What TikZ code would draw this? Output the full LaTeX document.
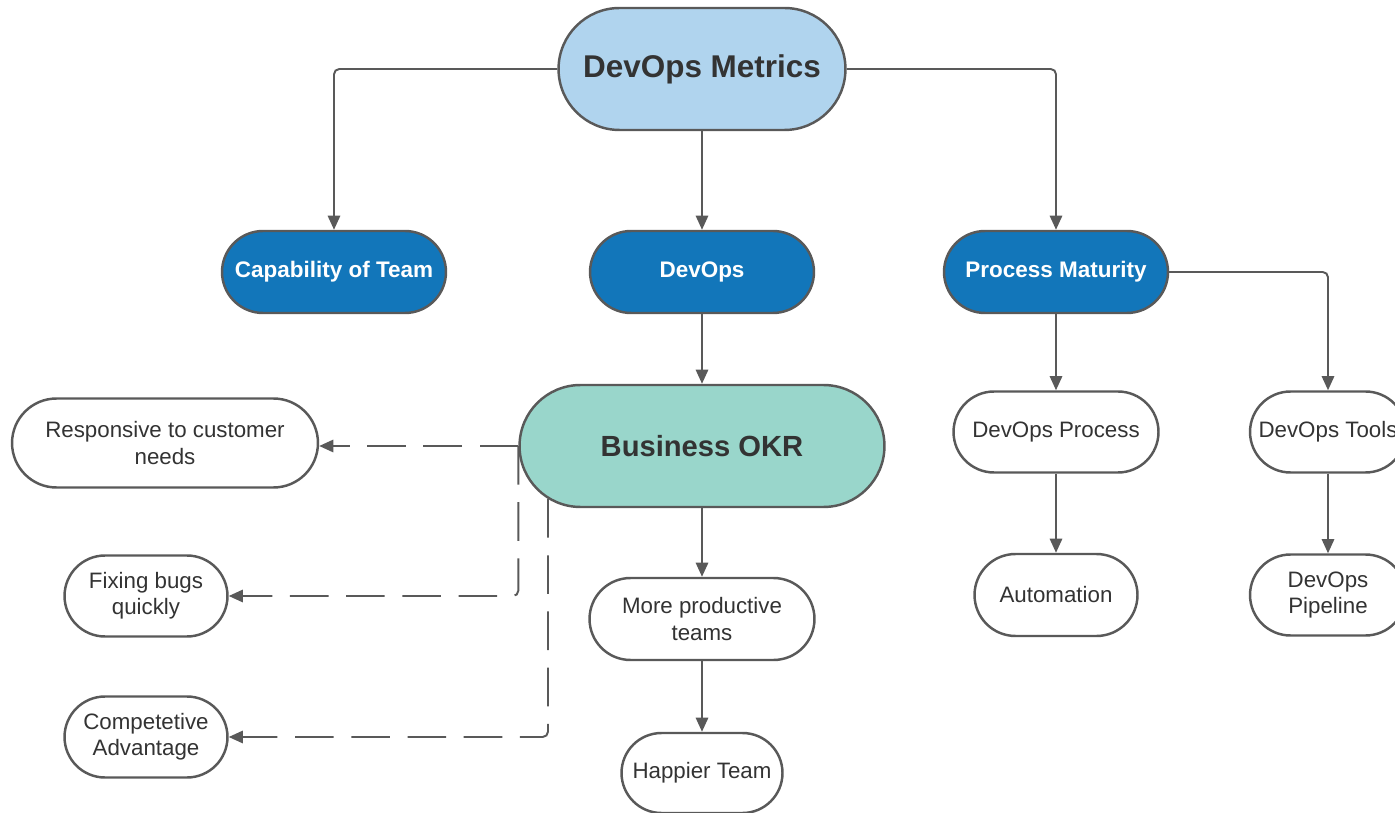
\documentclass[tikz,border=0pt]{standalone}
\usepackage{fontspec}
\setmainfont{Liberation Sans}
\usetikzlibrary{shapes.misc,arrows.meta}
\definecolor{linegray}{RGB}{89,89,89}
\definecolor{textgray}{RGB}{51,51,51}
\definecolor{metricblue}{RGB}{176,212,238}
\definecolor{areablue}{RGB}{18,118,186}
\definecolor{okrteal}{RGB}{153,214,203}

\begin{document}
\begin{tikzpicture}[x=0.02cm, y=-0.02cm,
        pill/.style={rounded rectangle, draw=linegray, line width=1.4pt, inner sep=0pt, align=center, fill=white, text=textgray, font=\fontsize{12.7}{15}\selectfont},
        area/.style={pill, fill=areablue, text=white, font=\bfseries\fontsize{12.8}{15}\selectfont, minimum width=4.48cm, minimum height=1.64cm},
        link/.style={draw=linegray, line width=1.1pt, -{Triangle[length=8pt,width=7pt]}, rounded corners=3pt},
        dashlink/.style={link, dash pattern=on 22pt off 10pt}]
        \useasboundingbox (0,0) rectangle (1395,813);
        \node[pill, fill=metricblue, minimum width=5.74cm, minimum height=2.44cm, font=\bfseries\fontsize{17.9}{21}\selectfont] (metrics) at (702,69) {DevOps Metrics};
        \node[area] (capability) at (334,272) {Capability of Team};
        \node[area] (devops) at (702,272) {DevOps};
        \node[area] (maturity) at (1056,272) {Process Maturity};
        \node[pill, fill=okrteal, minimum width=7.3cm, minimum height=2.44cm, font=\bfseries\fontsize{16.6}{20}\selectfont] (okr) at (702,446) {Business OKR};
        \node[pill, minimum width=6.12cm, minimum height=1.78cm] (responsive) at (165,443) {Responsive to customer\\needs};
        \node[pill, minimum width=3.26cm, minimum height=1.62cm] (bugs) at (146,596) {Fixing bugs\\quickly};
        \node[pill, minimum width=3.26cm, minimum height=1.62cm] (advantage) at (146,737) {Competetive\\Advantage};
        \node[pill, minimum width=4.5cm, minimum height=1.64cm] (productive) at (702,619) {More productive\\teams};
        \node[pill, minimum width=3.22cm, minimum height=1.6cm] (happier) at (702,773) {Happier Team};
        \node[pill, minimum width=4.1cm, minimum height=1.62cm] (process) at (1056,432) {DevOps Process};
        \node[pill, minimum width=3.26cm, minimum height=1.64cm] (automation) at (1056,595) {Automation};
        \node[pill, minimum width=3.12cm, minimum height=1.62cm] (tools) at (1328,432) {DevOps Tools};
        \node[pill, minimum width=3.12cm, minimum height=1.62cm] (pipeline) at (1328,595) {DevOps\\Pipeline};

        \draw[link] (metrics.west) -| (capability.north);
        \draw[link] (metrics.south) -- (devops.north);
        \draw[link] (metrics.east) -| (maturity.north);
        \draw[link] (devops.south) -- (okr.north);
        \draw[link] (maturity.south) -- (process.north);
        \draw[link] (maturity.east) -| (tools.north);
        \draw[link] (process.south) -- (automation.north);
        \draw[link] (tools.south) -- (pipeline.north);
        \draw[link] (okr.south) -- (productive.north);
        \draw[link] (productive.south) -- (happier.north);
        \draw[dashlink] (okr.west) -- (okr.west -| responsive.east);
        \draw[dashlink] (okr.west) |- (bugs.east);
        \draw[dashlink] (okr.199) |- (advantage.east);
\end{tikzpicture}
\end{document}
